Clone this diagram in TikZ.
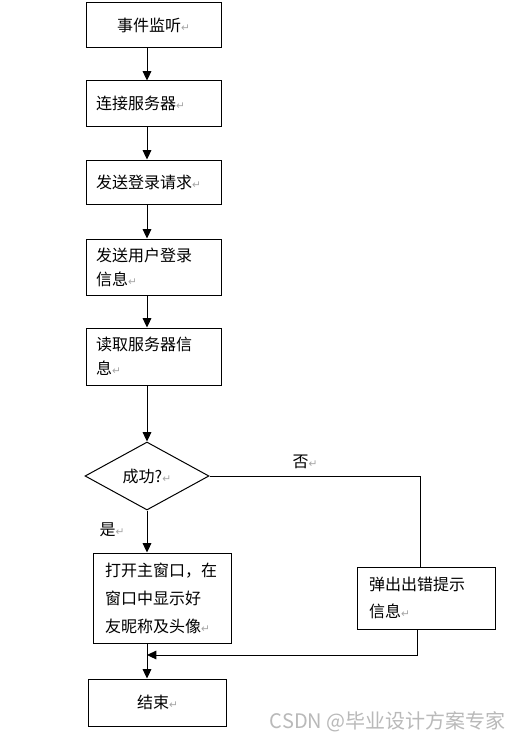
\documentclass[tikz,border=0pt]{standalone}
\usepackage{fontspec}
\setmainfont{Noto Sans CJK SC}
\newfontfamily\dvfont{DejaVu Sans}
\usepackage{tikz}
\usetikzlibrary{shapes.geometric, arrows.meta, positioning, calc}
\newcommand{\ret}{{\dvfont\color{gray!70}\fontsize{8}{8}\selectfont ↵}}
\tikzset{
    base/.style={draw=black, line width=0.75pt, font=\fontsize{12}{18}\selectfont, inner ysep=2pt},
    block/.style={base, rectangle, fill=white, minimum width=101.25pt, text width=86.25pt, inner xsep=7.5pt, align=left},
    blockwide/.style={base, rectangle, fill=white, minimum width=102.75pt, text width=86pt, inner xsep=8.4pt, align=left},
    decision/.style={base, diamond, fill=white, minimum width=93pt, minimum height=51pt, inner sep=0pt, align=center},
    line/.style={draw=black, line width=0.75pt, -{Triangle[length=7pt, width=6.5pt]}},
    plain-line/.style={draw=black, line width=0.75pt},
    tag/.style={font=\fontsize{12}{12}\selectfont, inner sep=0pt}
}
\begin{document}
\begin{tikzpicture}[x=0.75pt, y=-0.75pt]
    \useasboundingbox [fill=white] (0,0) rectangle (520,742);

    \node [block, align=center, minimum height=33.75pt] (listen) at (153.5,25.5) {事件监听\ret};
    \node [block, minimum height=33.75pt] (connect) at (153.5,103.5) {连接服务器\ret};
    \node [block, minimum height=33pt] (request) at (153.5,182) {发送登录请求\ret};
    \node [block, minimum height=42pt] (sendinfo) at (153.5,267) {发送用户登录\\信息\ret};
    \node [block, minimum height=42.75pt] (readinfo) at (153.5,356.5) {读取服务器信\\息\ret};
    \node [decision] (ok) at (147,476) {成功?\ret};
    \node [blockwide, minimum height=67.5pt, font=\fontsize{12}{21}\selectfont] (openmain) at (162.5,598) {打开主窗口，在\\窗口中显示好\\友昵称及头像\ret};
    \node [blockwide, minimum height=46.5pt, font=\fontsize{12}{20}\selectfont] (errmsg) at (426.5,598) {弹出出错提示\\信息\ret};
    \node [blockwide, align=center, minimum height=35.25pt] (finish) at (157.5,702.5) {结束\ret};

    \node [tag] (yes) at (112,530) {是\ret};
    \node [tag] (no) at (305,462) {否\ret};
    \coordinate (merge) at (147,655);

    \draw [line] (listen.south -| ok.center) -- (connect.north -| ok.center);
    \draw [line] (connect.south -| ok.center) -- (request.north -| ok.center);
    \draw [line] (request.south -| ok.center) -- (sendinfo.north -| ok.center);
    \draw [line] (sendinfo.south -| ok.center) -- (readinfo.north -| ok.center);
    \draw [line] (readinfo.south -| ok.center) -- (ok.north);
    \draw [line] (ok.south) -- (openmain.north -| ok.center);
    \draw [line] (openmain.south -| ok.center) -- (finish.north -| ok.center);

    \draw [plain-line] (ok.east) -| ([xshift=-4.5pt]errmsg.north);
    \draw [line] ([xshift=-7pt]errmsg.south) |- (merge);

    \node [font=\fontsize{15}{15}\selectfont, text=gray!55, anchor=east, inner sep=0pt] (mark) at (506,722) {CSDN @毕业设计方案专家};
\end{tikzpicture}
\end{document}
